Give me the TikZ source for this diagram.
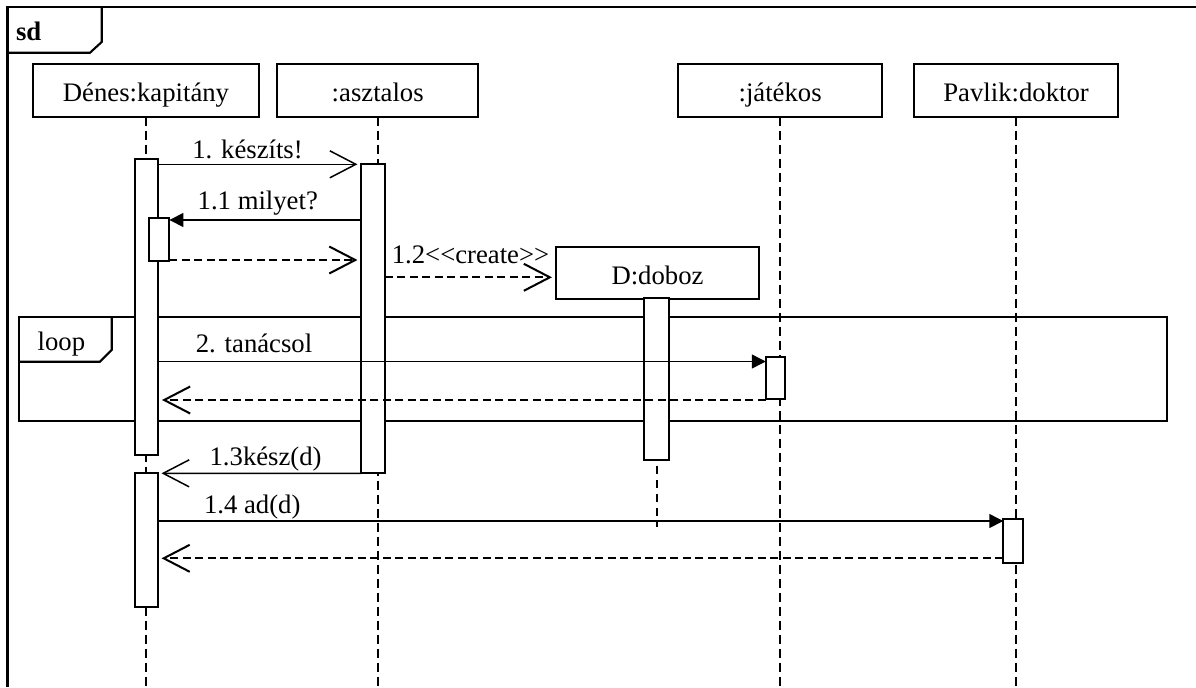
\documentclass[tikz,border=0pt]{standalone}
\usepackage{fontspec}
\setmainfont{Liberation Serif}
\usetikzlibrary{positioning, arrows.meta}

\begin{document}
\begin{tikzpicture}[x=0.02cm, y=-0.02cm,
    every node/.style={align=center, font=\fontsize{15.2pt}{18pt}\selectfont, inner sep=0pt, outer sep=0pt},
    head/.style={draw, line width=1.2pt, fill=white, minimum height=1.05cm, text height=0.448cm, text depth=0pt},
    bar/.style={draw, line width=1.1pt, fill=white},
    frame/.style={line width=1.2pt},
    lifeline/.style={line width=1.3pt, dash pattern=on 0.18cm off 0.1cm},
    stub/.style={line width=0.9pt, dash pattern=on 0.16cm off 0.12cm, dash phase=0.16cm},
    call/.style={line width=0.85pt, -{Triangle[length=0.28cm, width=0.28cm]}},
    async/.style={line width=0.85pt, -{Straight Barb[length=0.52cm, width=0.54cm]}, shorten >=0.08cm},
    reply/.style={line width=1.15pt, dash pattern=on 0.16cm off 0.09cm, -{Straight Barb[length=0.52cm, width=0.54cm]}, shorten >=0.08cm}]
    \useasboundingbox (0,0) rectangle (1196,687);
    \coordinate (bottom) at (0,687);

    % sd frame
    \draw[frame] (1196,7) -- (7.5,7) -- (7.5,687);
    \draw[frame] (101.7,7) -- (101.7,42) -- (90,52.7) -- (7.5,52.7);
    \node (sd) [anchor=base west, font=\fontsize{15.2pt}{18pt}\selectfont\bfseries] at (16,40) {sd};

    % objects
    \node (kap) [head, minimum width=4.53cm] at (146,90.5) {Dénes:kapitány};
    \node (aszt) [head, minimum width=4.02cm, right=0.36cm of kap] {:asztalos};
    \node (jat) [head, minimum width=4.08cm, right=4cm of aszt] {:játékos};
    \node (pav) [head, minimum width=4.08cm, right=0.64cm of jat] {Pavlik:doktor};
    \node (doboz) [head, minimum width=4.06cm] at (657.5,273) {D:doboz};

    % lifelines
    \foreach \obj in {kap, aszt, jat, pav}
        \draw[lifeline] (\obj.south) -- (\obj.south |- bottom);

    % loop fragment
    \draw[frame] (19,316.7) rectangle (1166.7,421);
    \draw[frame] (111.7,316.7) -- (111.7,350) -- (100,361.7) -- (19,361.7);
    \node (loop) [anchor=base west] at (37.7,350) {loop};

    % activations
    \node (kapA) [bar, minimum width=0.46cm, minimum height=5.92cm] at (146.5,307) {};
    \node (kapB) [bar, minimum width=0.41cm, minimum height=0.87cm] at (159.2,239.3) {};
    \node (kapC) [bar, minimum width=0.45cm, minimum height=2.68cm] at (146.3,540.3) {};
    \node (asztA) [bar, minimum width=0.47cm, minimum height=6.19cm] at (373.2,318.7) {};
    \node (dobozA) [bar, minimum width=0.5cm, minimum height=3.25cm] at (656.8,379.2) {};
    \node (jatA) [bar, minimum width=0.39cm, minimum height=0.84cm] at (775.5,378.3) {};
    \node (pavA) [bar, minimum width=0.39cm, minimum height=0.89cm] at (1013,541.2) {};
    \draw[stub] (dobozA.south) -- (dobozA.south |- 0,527);

    % messages
    \draw[async] (kapA.east |- 0,164.3) -- node[pos=0.44, anchor=base, yshift=0.126cm] (m1) {1. készíts!} (asztA.west |- 0,164.3);
    \draw[call] (asztA.west |- 0,220) -- node[pos=0.54, anchor=base, yshift=0.214cm] (m11) {1.1 milyet?} (kapB.east |- 0,220);
    \draw[reply] (kapB.east |- 0,260) -- (asztA.west |- 0,260);
    \draw[reply] (asztA.east |- 0,277.3) -- node[pos=0.5, anchor=base, yshift=0.286cm] (m12) {1.2<\kern0pt<create>\kern0pt>} (doboz.west |- 0,277.3);
    \draw[call] (kapA.east |- 0,361.5) -- node[pos=0.158, anchor=base, yshift=0.176cm] (m2) {2. tanácsol} (jatA.west |- 0,361.5);
    \draw[reply] (jatA.west |- 0,400) -- (kapA.east |- 0,400);
    \draw[async] (asztA.south west) -- node[pos=0.47, anchor=base, yshift=0.16cm] (m13) {1.3kész(d)} (kapC.north east);
    \draw[call] (kapC.east |- 0,521) -- node[pos=0.112, anchor=base, yshift=0.154cm] (m14) {1.4 ad(d)} (pavA.west |- 0,521);
    \draw[reply] (pavA.west |- 0,558.3) -- (kapC.east |- 0,558.3);
\end{tikzpicture}
\end{document}
